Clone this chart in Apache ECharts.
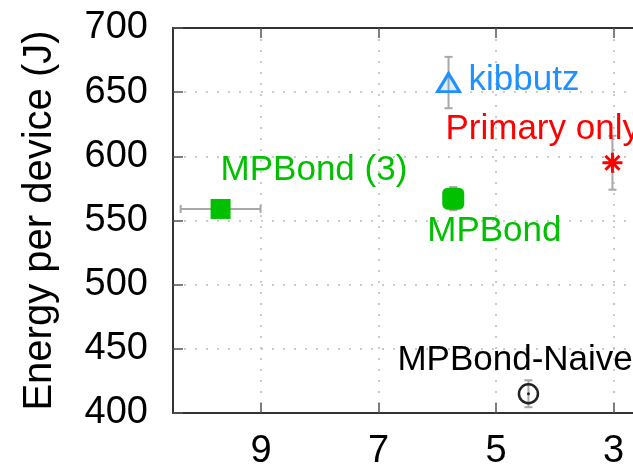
<!DOCTYPE html>
<html>
<head>
<meta charset="UTF-8">
<title>Energy per device</title>
<style>
    html, body { margin:0; padding:0; background:#fff; }
    #box { width:633px; height:466px; }
</style>
<script src="https://cdn.jsdelivr.net/npm/echarts@6/dist/echarts.min.js"></script>
</head>
<body>
<div id="box"></div>
<script>
// values
var names  = ['MPBond (3)', 'MPBond', 'kibbutz', 'Primary only', 'MPBond-Naive'];
var xVals  = [9.69, 5.73, 5.81, 3.02, 4.45];
var yVals  = [559, 567, 657.5, 595, 415];
var xErr   = [0.68, 0.05, 0, 0, 0];
var yErr   = [0, 9, 20, 21, 10.5];
var xTicks = [3, 5, 7, 9];

var font = 'Liberation Sans, Arial, Helvetica, sans-serif';
var green = '#00c000', blue = '#1e90ff', red = '#ff0000', black = '#222';

var errData = names.map(function (n, i) { return [xVals[i], yVals[i], xErr[i], yErr[i]]; });
function pt(i) { return [[xVals[i], yVals[i]]]; }

// error bars with caps
function renderErr(params, api) {
    var x = api.value(0), y = api.value(1), ex = api.value(2), ey = api.value(3);
    var st = { stroke: '#a8a8a8', lineWidth: 2 };
    var cap = 4;
    var kids = [];
    if (ex > 0) {
        var a = api.coord([x + ex, y]), b = api.coord([x - ex, y]);
        kids.push({ type: 'line', shape: { x1: a[0], y1: a[1], x2: b[0], y2: b[1] }, style: st });
        kids.push({ type: 'line', shape: { x1: a[0], y1: a[1] - cap, x2: a[0], y2: a[1] + cap }, style: st });
        kids.push({ type: 'line', shape: { x1: b[0], y1: b[1] - cap, x2: b[0], y2: b[1] + cap }, style: st });
    }
    if (ey > 0) {
        var c = api.coord([x, y + ey]), d = api.coord([x, y - ey]);
        kids.push({ type: 'line', shape: { x1: c[0], y1: c[1], x2: d[0], y2: d[1] }, style: st });
        kids.push({ type: 'line', shape: { x1: c[0] - cap, y1: c[1], x2: c[0] + cap, y2: c[1] }, style: st });
        kids.push({ type: 'line', shape: { x1: d[0] - cap, y1: d[1], x2: d[0] + cap, y2: d[1] }, style: st });
    }
    return { type: 'group', children: kids };
}

function lbl(i, color, offset) {
    return {
        show: true, formatter: names[i], position: 'inside', offset: offset,
        align: 'left', verticalAlign: 'middle',
        color: color, fontSize: 35, fontFamily: font
    };
}

var myChart = echarts.init(document.getElementById('box'));
var option = {
    animation: false,
    backgroundColor: '#fff',
    textStyle: { fontFamily: font },
    grid: { left: 173, top: 28, right: -10, bottom: 53, containLabel: false, outerBoundsMode: 'none' },
    xAxis: [{
        type: 'value', inverse: true, min: 2.5, max: 10.5,
        axisLine: { show: true, onZero: false, lineStyle: { color: '#333', width: 2 } },
        axisTick: { show: true, inside: true, length: 10, customValues: xTicks, lineStyle: { color: '#555', width: 1.5 } },
        axisLabel: { customValues: xTicks, fontSize: 38, color: '#000', margin: 20 },
        splitLine: { show: true, lineStyle: { type: [2, 9], color: '#bbb', width: 1.5 } }
    }, {
        type: 'value', inverse: true, min: 2.5, max: 10.5, position: 'top',
        axisLine: { show: true, onZero: false, lineStyle: { color: '#333', width: 2 } },
        axisTick: { show: true, inside: true, length: 10, customValues: xTicks, lineStyle: { color: '#555', width: 1.5 } },
        axisLabel: { show: false },
        splitLine: { show: false }
    }],
    yAxis: [{
        type: 'value', min: 400, max: 700, interval: 50,
        name: 'Energy per device (J)', nameLocation: 'middle', nameGap: 113,
        nameTextStyle: { fontSize: 40, color: '#000' },
        axisLine: { show: true, lineStyle: { color: '#333', width: 2 } },
        axisTick: { show: true, inside: true, length: 10, lineStyle: { color: '#555', width: 1.5 } },
        axisLabel: { fontSize: 38, color: '#000', margin: 25 },
        splitLine: { show: true, lineStyle: { type: [2, 9], color: '#bbb', width: 1.5 } }
    }, {
        type: 'value', min: 400, max: 700, interval: 50, position: 'right',
        axisLine: { show: true, lineStyle: { color: '#333', width: 2 } },
        axisTick: { show: true, inside: true, length: 10, lineStyle: { color: '#555', width: 1.5 } },
        axisLabel: { show: false },
        splitLine: { show: false }
    }],
    series: [
        {
            name: 'err', type: 'custom', renderItem: renderErr, data: errData, z: 1
        },
        {
            name: names[0], type: 'scatter', data: pt(0), z: 3,
            symbol: 'rect', symbolSize: 20,
            itemStyle: { color: green, opacity: 1 },
            label: lbl(0, green, [0, -39])
        },
        {
            name: names[1], type: 'scatter', data: pt(1), z: 3,
            symbol: 'roundRect', symbolSize: 22,
            itemStyle: { color: green, opacity: 1 },
            label: lbl(1, green, [-26, 33])
        },
        {
            name: names[2], type: 'scatter', data: pt(2), z: 3,
            symbol: 'triangle', symbolSize: [22, 18],
            itemStyle: { color: 'rgba(30,144,255,0.15)', borderColor: blue, borderWidth: 3, opacity: 1 },
            label: lbl(2, blue, [20, -2])
        },
        {
            name: names[3], type: 'scatter', data: pt(3), z: 3,
            symbol: 'path://M0,-10L0,10M-10,0L10,0M-7,-7L7,7M-7,7L7,-7', symbolSize: 20,
            itemStyle: { color: 'none', borderColor: red, borderWidth: 3, opacity: 1 },
            label: lbl(3, red, [-167, -33])
        },
        {
            name: names[4], type: 'scatter', data: pt(4), z: 3,
            symbol: 'circle', symbolSize: 19,
            itemStyle: { color: 'rgba(255,255,255,0)', borderColor: black, borderWidth: 2.5, opacity: 1 },
            label: lbl(4, '#000', [-131, -33])
        },
        {
            name: 'dot', type: 'scatter', data: pt(4), z: 4,
            symbol: 'circle', symbolSize: 3,
            itemStyle: { color: black, opacity: 1 }
        }
    ]
};
myChart.setOption(option);
</script>
</body>
</html>
